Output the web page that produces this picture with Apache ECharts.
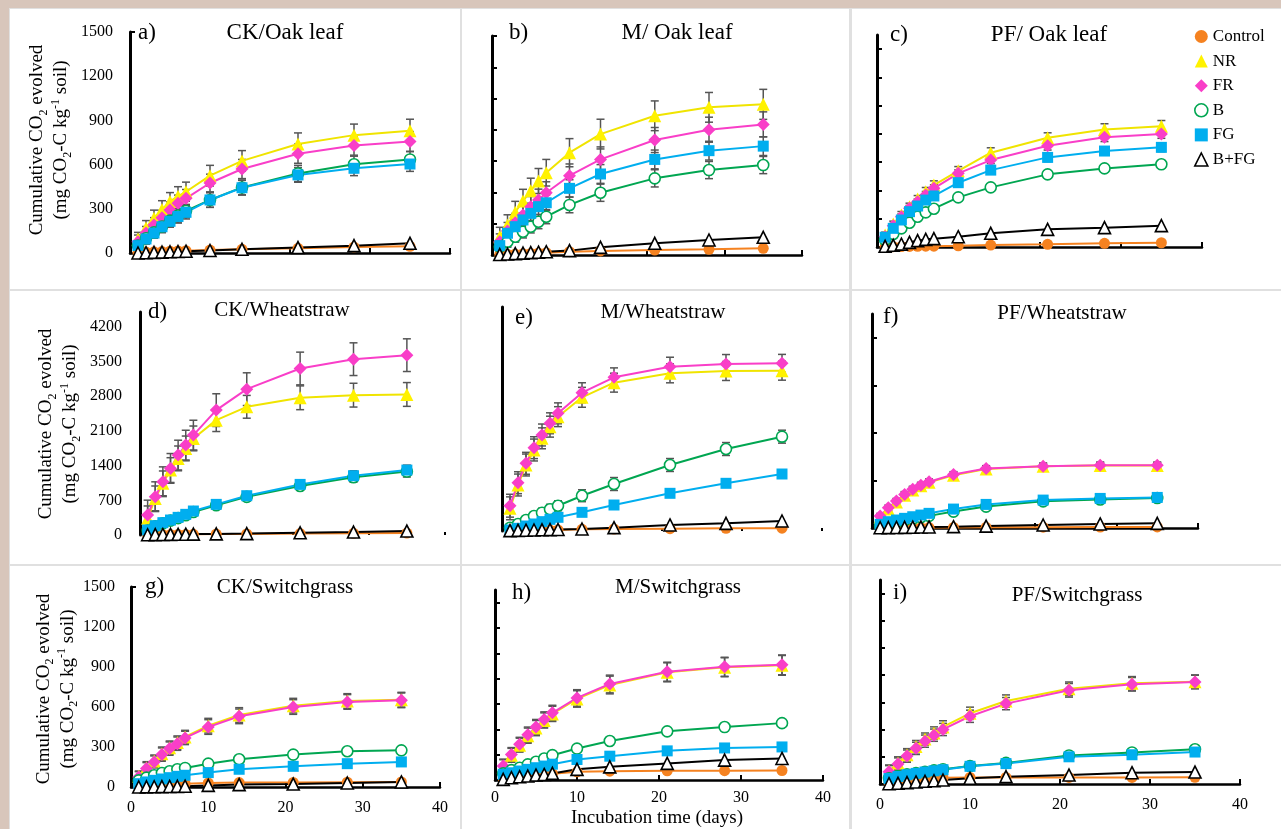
<!DOCTYPE html>
<html><head><meta charset="utf-8">
<script src="https://cdn.jsdelivr.net/npm/echarts@6/dist/echarts.min.js"></script>
<style>html,body{margin:0;padding:0;background:#fff;}#c{width:1281px;height:829px;}</style>
</head><body><div id="c"></div>
<script>
// ---------------- DATA ----------------
const days = [1,2,3,4,5,6,7,10,14,21,28,35];
const seriesNames = ['Control','NR','FR','B','FG','B+FG'];
const panelLetters = ['a)','b)','c)','d)','e)','f)','g)','h)','i)'];
const panelTitles = ['CK/Oak leaf','M/ Oak leaf','PF/ Oak leaf','CK/Wheatstraw','M/Wheatstraw','PF/Wheatstraw','CK/Switchgrass','M/Switchgrass','PF/Switchgrass'];
const yLab1500 = [0,300,600,900,1200,1500];
const yLab4200 = [0,700,1400,2100,2800,3500,4200];
const yTick200 = [0,200,400,600,800,1000,1200,1400];
const yTick1000 = [0,1000,2000,3000,4000];
const yTickTop = [1500];
const xTickVals = [10,20,30,40];
const xLabVals = [0,10,20,30,40];
const xName = 'Incubation time (days)';

// a) CK / Oak leaf
const aCtrl = [3,6,8,10,12,14,16,20,25,32,40,45];
const aNR   = [95,170,236,295,350,385,416,525,625,740,800,830];
const aFR   = [77,135,190,240,292,338,371,475,570,674,729,756];
const aB    = [50,100,140,180,220,255,285,360,445,540,602,635];
const aFG   = [50,95,135,178,215,248,276,360,443,530,575,604];
const aBFG  = [0,2,4,6,8,10,12,17,25,37,50,66];
const aNRe = [45,50,55,60,60,65,65,70,70,75,75,78];
const aFRe = [45,45,50,50,55,55,60,60,65,65,65,68];
const aBe  = [30,35,35,40,40,45,45,50,50,55,55,55];
const aFGe = [30,35,35,40,40,45,45,50,50,50,50,50];
// b) M / Oak leaf
const bCtrl = [2,4,6,8,10,12,15,21,26,32,36,43];
const bNR   = [117,192,273,345,411,473,526,654,773,890,944,963];
const bFR   = [85,153,206,256,309,351,398,507,611,735,801,835];
const bB    = [53,85,117,149,181,213,245,320,398,490,543,575];
const bFG   = [60,139,181,224,266,309,334,426,518,611,667,696];
const bBFG  = [3,6,9,12,15,18,21,28,49,75,96,113];
const bNRe = [60,65,70,75,80,80,85,90,95,95,95,96];
const bFRe = [50,55,60,65,65,70,70,75,80,80,80,80];
const bBe  = [30,35,35,40,40,45,45,50,55,55,55,55];
const bFGe = [35,40,45,45,50,50,50,55,60,60,60,60];
// c) PF / Oak leaf
const cCtrl = [1,2,3,4,5,6,6,8,14,19,26,30];
const cNR   = [85,163,226,285,339,391,438,539,667,773,832,855];
const cFR   = [73,151,214,274,320,368,415,521,615,716,776,799];
const cB    = [50,92,132,172,214,245,271,351,422,514,556,585];
const cFG   = [69,132,191,250,290,332,361,455,544,634,679,705];
const cBFG  = [5,12,20,33,45,54,59,73,97,125,137,151];
const cNRe = [20,20,25,25,25,30,30,30,35,35,40,40];
const cFRe = [15,15,20,20,20,25,25,25,25,30,30,30];
const cBe  = [8,8,10,10,10,12,12,12,15,15,15,15];
const cFGe = [15,15,15,20,20,20,20,25,25,30,30,30];
// d) CK / Wheatstraw
const dCtrl = [2,4,6,8,10,12,14,18,22,28,35,40];
const dNR   = [336,739,1042,1310,1546,1747,1949,2318,2587,2769,2822,2836];
const dFR   = [403,773,1075,1344,1613,1814,2016,2520,2943,3360,3548,3629];
const dB    = [90,175,235,290,340,400,465,600,770,990,1165,1280];
const dFG   = [101,188,249,302,356,417,484,618,793,1021,1196,1310];
const dBFG  = [5,8,10,12,14,16,18,22,28,45,60,80];
const dNRe = [250,250,250,250,250,250,250,230,230,240,240,240];
const dFRe = [300,300,300,300,300,300,300,330,330,330,330,330];
const dBe  = [50,50,60,60,60,60,60,70,80,90,100,110];
const dFGe = [60,60,60,60,70,70,70,80,80,90,100,100];
// e) M / Wheatstraw
const eCtrl = [5,8,11,14,16,18,20,34,40,47,54,56];
const eNR   = [456,924,1326,1627,1862,2096,2297,2686,2980,3167,3214,3220];
const eFR   = [508,970,1360,1674,1929,2164,2364,2778,3087,3301,3355,3368];
const eB    = [66,141,221,301,368,436,508,709,944,1326,1647,1895];
const eFG   = [20,54,100,141,188,235,275,375,522,757,958,1145];
const eBFG  = [8,12,16,20,24,27,30,40,67,121,154,201];
const eNRe = [230,220,220,220,210,210,200,200,190,190,190,190];
const eFRe = [230,220,220,220,220,210,210,200,190,190,190,180];
const eBe  = [50,60,70,80,90,100,100,120,130,130,130,130];
const eFGe = [20,20,20,30,30,30,30,40,40,40,40,50];
// f) PF / Wheatstraw
const fCtrl = [2,4,5,6,8,9,10,13,15,18,20,22];
const fNR   = [230,400,545,690,800,890,960,1110,1240,1300,1315,1315];
const fFR   = [252,426,566,706,817,901,971,1125,1251,1300,1320,1320];
const fB    = [40,80,120,160,195,225,255,345,450,560,600,630];
const fFG   = [77,133,168,203,237,272,308,398,496,587,622,643];
const fBFG  = [5,8,11,14,17,20,22,28,40,63,85,98];
const fNRe = [55,55,60,60,60,60,60,60,60,60,65,65];
const fFRe = [55,55,55,60,60,60,60,60,60,65,65,65];
const fBe  = [20,20,20,20,25,25,25,25,25,30,30,30];
const fFGe = [25,25,25,25,30,30,30,30,30,35,35,35];
// g) CK / Switchgrass
const gCtrl = [10,15,18,20,22,24,25,30,33,34,36,38];
const gNR   = [80,145,195,250,295,333,375,460,540,610,645,655];
const gFR   = [75,138,188,243,288,325,368,450,530,600,638,650];
const gB    = [50,70,88,105,118,133,143,175,208,243,268,275];
const gFG   = [25,38,50,60,70,80,88,108,133,155,175,188];
const gBFG  = [0,1,2,3,4,5,6,12,18,22,30,38];
const gNRe = [40,45,45,50,50,50,50,55,55,55,55,55];
const gFRe = [40,45,45,50,50,50,50,55,55,55,55,55];
const gBe  = [10,10,10,10,12,12,12,12,15,15,15,15];
const gFGe = [10,10,10,10,10,12,12,12,12,12,15,15];
// h) M / Switchgrass
const hCtrl = [12,20,28,35,40,45,50,65,70,73,74,75];
const hNR   = [105,195,275,350,410,470,522,640,750,850,890,905];
const hFR   = [110,201,282,358,418,478,530,648,758,855,894,909];
const hB    = [52,78,97,123,144,170,196,248,308,384,418,449];
const hFG   = [45,57,71,84,97,110,125,162,188,230,253,261];
const hBFG  = [5,18,26,31,39,44,52,84,104,131,157,170];
const hNRe = [55,55,55,60,60,60,60,65,70,75,75,78];
const hFRe = [55,55,55,60,60,60,60,65,70,75,75,78];
const hBe  = [20,20,20,22,22,22,25,25,25,25,25,25];
const hFGe = [15,15,15,15,15,18,18,18,18,18,20,20];
// i) PF / Switchgrass
const iCtrl = [10,18,25,32,38,42,46,48,48,48,48,49];
const iNR   = [95,155,215,275,330,375,420,520,610,700,740,752];
const iFR   = [90,147,205,262,315,359,401,498,591,689,733,750];
const iB    = [42,59,71,80,90,100,108,132,155,210,232,255];
const iFG   = [40,55,68,78,88,97,105,130,150,200,215,235];
const iBFG  = [2,5,10,15,20,24,29,42,54,66,83,88];
const iNRe = [45,45,45,45,45,45,45,45,45,50,50,50];
const iFRe = [45,45,45,45,45,45,45,45,45,50,50,50];
const iBe  = [10,10,10,10,10,10,12,12,12,15,15,15];
const iFGe = [10,10,10,10,10,10,12,12,12,12,12,12];

// ---------------- ASSEMBLY ----------------
const panelVals = [
  [aCtrl,aNR,aFR,aB,aFG,aBFG],[bCtrl,bNR,bFR,bB,bFG,bBFG],[cCtrl,cNR,cFR,cB,cFG,cBFG],
  [dCtrl,dNR,dFR,dB,dFG,dBFG],[eCtrl,eNR,eFR,eB,eFG,eBFG],[fCtrl,fNR,fFR,fB,fFG,fBFG],
  [gCtrl,gNR,gFR,gB,gFG,gBFG],[hCtrl,hNR,hFR,hB,hFG,hBFG],[iCtrl,iNR,iFR,iB,iFG,iBFG]];
const panelErrs = [
  [null,aNRe,aFRe,aBe,aFGe,null],[null,bNRe,bFRe,bBe,bFGe,null],[null,cNRe,cFRe,cBe,cFGe,null],
  [null,dNRe,dFRe,dBe,dFGe,null],[null,eNRe,eFRe,eBe,eFGe,null],[null,fNRe,fFRe,fBe,fFGe,null],
  [null,gNRe,gFRe,gBe,gFGe,null],[null,hNRe,hFRe,hBe,hFGe,null],[null,iNRe,iFRe,iBe,iFGe,null]];

const FONT = '"Liberation Serif","Times New Roman",serif';
const LAY = [
  {l:130,t:32,w:320,h:221,ymax:1500,yLab:yLab1500,yTick:yTickTop,ym:17,xLab:false,xLine:true,errTop:false},
  {l:492,t:36,w:310,h:219,ymax:1400,yLab:null,yTick:yTick200,xLab:false,xLine:true,errTop:true},
  {l:877,t:35,w:325,h:212,ymax:1500,yLab:null,yTick:yTick200,xLab:false,xLine:true,errTop:true},
  {l:140,t:312,w:305,h:223,ymax:4500,yLab:yLab4200,yTick:null,ym:18,xLab:false,xLine:false,errTop:false},
  {l:502,t:307,w:320,h:224,ymax:4500,yLab:null,yTick:null,xLab:false,xLine:false,errTop:false},
  {l:872,t:314,w:326,h:214,ymax:4500,yLab:null,yTick:yTick1000,xLab:false,xLine:true,errTop:false},
  {l:131,t:587,w:309,h:200,ymax:1500,yLab:yLab1500,yTick:yTickTop,ym:16,xLab:true,xm:13,xLine:true,errTop:false},
  {l:495,t:590,w:328,h:190,ymax:1500,yLab:null,yTick:yTick200,xLab:true,xm:10,xLine:true,errTop:false},
  {l:880,t:580,w:360,h:204,ymax:1500,yLab:null,yTick:yTick200,xLab:true,xm:13,xLine:true,errTop:false}
];
const letterPos = [[138,33],[509,33],[890,35],[148,312],[515,318],[883,317],[145,587],[512,593],[893,593]];
const titlePos = [[285,33],[677,33],[1049,35],[282,310],[663,312],[1062,313],[285,587],[678,587],[1077,595]];
const titleSize = [23,23,23,21,21,21,21,21,21];

const STY = {
  'Control': {symbol:'circle', size:11, fill:'#f58220', stroke:null, line:'#f58220'},
  'NR':      {symbol:'triangle', size:13, fill:'#fff200', stroke:null, line:'#f0e400'},
  'FR':      {symbol:'diamond', size:13, fill:'#f93ec8', stroke:null, line:'#f93ec8'},
  'B':       {symbol:'circle', size:11, fill:'#ffffff', stroke:'#00a651', line:'#00a651'},
  'FG':      {symbol:'rect', size:11, fill:'#00aeef', stroke:null, line:'#00aeef'},
  'B+FG':    {symbol:'triangle', size:12, fill:'#ffffff', stroke:'#000000', line:'#000000'}
};
const plainNum = v => String(v);

function errorSeries(p, vals, errs) {
  return {
    type:'custom', xAxisIndex:p, yAxisIndex:p, silent:true, animation:false,
    data: days.map((d,k) => [d, vals[k], errs[k]]),
    encode:{x:0, y:1},
    renderItem:(params, api) => {
      const x = api.value(0), y = api.value(1), e = api.value(2);
      const t = api.coord([x, y + e]), b = api.coord([x, y - e]);
      const c = 4, ls = {stroke:'#555555', lineWidth:1.5};
      return {type:'group', children:[
        {type:'line', shape:{x1:t[0], y1:t[1], x2:b[0], y2:b[1]}, style:ls},
        {type:'line', shape:{x1:t[0]-c, y1:t[1], x2:t[0]+c, y2:t[1]}, style:ls},
        {type:'line', shape:{x1:b[0]-c, y1:b[1], x2:b[0]+c, y2:b[1]}, style:ls}
      ]};
    }
  };
}

const grids = [], xAxes = [], yAxes = [], series = [];
LAY.forEach((L, p) => {
  grids.push({left:L.l, top:L.t, width:L.w, height:L.h, containLabel:false, outerBoundsMode:'none'});
  xAxes.push({
    gridIndex:p, type:'value', min:0, max:40, interval:10,
    axisLine:{show:L.xLine, onZero:false, lineStyle:{color:'#000', width:2.5}},
    axisTick:{show:true, inside:true, length:L.xLine?5:3, customValues:xTickVals, lineStyle:{color:'#000', width:2}},
    axisLabel:{show:L.xLab, margin:L.xm||10, customValues:xLabVals, formatter:plainNum, fontFamily:FONT, fontSize:16, color:'#000'},
    splitLine:{show:false}
  });
  yAxes.push({
    gridIndex:p, type:'value', min:0, max:L.ymax,
    axisLine:{show:true, onZero:false, lineStyle:{color:'#000', width:3}},
    axisTick:{show:!!L.yTick, inside:true, length:5, customValues:L.yTick||[], lineStyle:{color:'#000', width:2}},
    axisLabel:{show:!!L.yLab, margin:L.ym||10, customValues:L.yLab||[], formatter:plainNum, fontFamily:FONT, fontSize:16, color:'#000'},
    splitLine:{show:false}
  });
  seriesNames.forEach((name, s) => {
    const vals = panelVals[p][s];
    const errs = panelErrs[p][s];
    const st = STY[name];
    if (errs && !L.errTop) series.push(errorSeries(p, vals, errs));
    series.push({
      type:'line', name:name, xAxisIndex:p, yAxisIndex:p, animation:false,
      data: days.map((d,k) => [d, vals[k]]),
      symbol:st.symbol, symbolSize:st.size, showSymbol:true,
      itemStyle:{color:st.fill, borderColor:st.stroke || st.fill, borderWidth:st.stroke ? 1.6 : 0},
      lineStyle:{color:st.line, width:2},
      emphasis:{disabled:true}
    });
    if (errs && L.errTop) series.push(errorSeries(p, vals, errs));
  });
});

const graphics = [
  {type:'rect', z:-30, shape:{x:0, y:0, width:1281, height:829}, style:{fill:'#d8c6bb'}},
  {type:'rect', z:-29, shape:{x:9, y:8, width:1272, height:821}, style:{fill:'#e0e0e0'}}
];
const colX = [[10,450],[462,387],[852,429]];
const rowY = [[9,280],[291,273],[566,263]];
rowY.forEach(r => colX.forEach(c => graphics.push(
  {type:'rect', z:-28, shape:{x:c[0], y:r[0], width:c[1], height:r[1]}, style:{fill:'#ffffff'}})));
panelLetters.forEach((t, p) => graphics.push({type:'text', z:10, x:letterPos[p][0], y:letterPos[p][1],
  style:{text:t, font:'23px ' + FONT, fill:'#000', align:'left', verticalAlign:'middle'}}));
panelTitles.forEach((t, p) => graphics.push({type:'text', z:10, x:titlePos[p][0], y:titlePos[p][1],
  style:{text:t, font:titleSize[p] + 'px ' + FONT, fill:'#000', align:'center', verticalAlign:'middle'}}));
const yNameText = 'Cumulative CO{s|2} evolved\n(mg CO{s|2}-C kg{p|-1} soil)';
const yNamePos = [[49.5,140],[58.5,424],[56,689]];
yNamePos.forEach(pos => graphics.push({type:'text', z:10, x:pos[0], y:pos[1], rotation:Math.PI/2,
  style:{text:yNameText, font:'19px ' + FONT, fill:'#000', align:'center', verticalAlign:'middle', lineHeight:24,
    rich:{s:{fontSize:12, fontFamily:FONT, fill:'#000', lineHeight:12, verticalAlign:'bottom'},
          p:{fontSize:12, fontFamily:FONT, fill:'#000', lineHeight:12, verticalAlign:'top'}}}}));
graphics.push({type:'text', z:10, x:657, y:818, style:{text:xName, font:'19px ' + FONT, fill:'#000', align:'center', verticalAlign:'middle'}});

const legendData = seriesNames.map(n => {
  const st = STY[n];
  return {name:n, icon:st.symbol, itemStyle:{color:st.fill, borderColor:st.stroke || st.fill, borderWidth:st.stroke ? 1.6 : 0}};
});

const chart = echarts.init(document.getElementById('c'), null, {renderer:'canvas', width:1281, height:829});
chart.setOption({
  animation:false,
  backgroundColor:'#ffffff',
  grid:grids, xAxis:xAxes, yAxis:yAxes, series:series,
  legend:{orient:'vertical', left:1189, top:23, itemWidth:13, itemHeight:13, itemGap:7.6, selectedMode:false,
    textStyle:{fontFamily:FONT, fontSize:17, color:'#000'}, data:legendData},
  graphic:{elements:graphics}
});
</script></body></html>
